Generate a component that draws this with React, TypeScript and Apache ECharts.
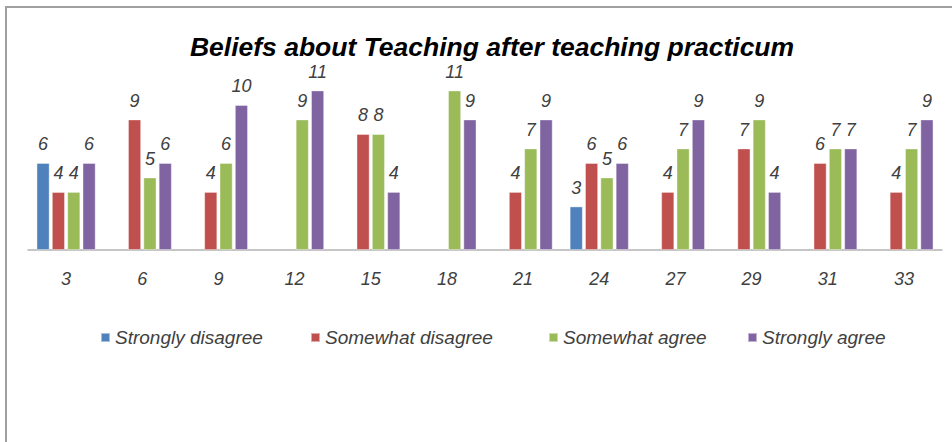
import React, { useEffect, useRef } from "react";
import * as echarts from "echarts";

const categories = ["3", "6", "9", "12", "15", "18", "21", "24", "27", "29", "31", "33"];
const seriesNames = ["Strongly disagree", "Somewhat disagree", "Somewhat agree", "Strongly agree"];
const stronglyDisagree = [6, null, null, null, null, null, null, 3, null, null, null, null];
const somewhatDisagree = [4, 9, 4, null, 8, null, 4, 6, 4, 7, 6, 4];
const somewhatAgree = [4, 5, 6, 9, 8, 11, 7, 5, 7, 9, 7, 7];
const stronglyAgree = [6, 6, 10, 11, 4, 9, 9, 6, 9, 4, 7, 9];
const colors = ["#4F81BD", "#C0504D", "#9BBB59", "#8064A2"];
const legendLeft = [95, 305, 543, 742];

export default function App() {
  const ref = useRef<HTMLDivElement>(null);
  useEffect(() => {
    if (!ref.current) return;
    const chart = echarts.init(ref.current, null, { renderer: "svg" });
    const values = [stronglyDisagree, somewhatDisagree, somewhatAgree, stronglyAgree];
    const font = "'Liberation Sans', Arial, sans-serif";
    chart.setOption({
      animation: false,
      backgroundColor: "#ffffff",
      title: {
        text: "Beliefs about Teaching after teaching practicum",
        left: 487,
        textAlign: "center",
        top: 28,
        textStyle: {
          fontFamily: font,
          fontStyle: "italic",
          fontWeight: "bold",
          fontSize: 26.5,
          color: "#000000",
        },
      },
      legend: seriesNames.map((n, i) => ({
        data: [n],
        left: legendLeft[i],
        top: 323,
        icon: "rect",
        itemWidth: 9,
        itemHeight: 9,
        itemGap: 6,
        textStyle: {
          fontFamily: font,
          fontStyle: "italic",
          fontSize: 19,
          color: "#404040",
        },
      })),
      grid: { left: 28, right: 10, top: 76, bottom: 192, containLabel: false },
      xAxis: {
        type: "category",
        data: categories,
        axisLine: { show: true, lineStyle: { color: "#b3b3b3", width: 1.5 } },
        axisTick: { show: false },
        axisLabel: {
          margin: 20,
          fontFamily: font,
          fontStyle: "italic",
          fontSize: 18,
          color: "#404040",
        },
      },
      yAxis: {
        type: "value",
        min: 0,
        max: 12,
        show: false,
        splitLine: { show: false },
      },
      graphic: [
        { type: "line", shape: { x1: 5, y1: 7, x2: 952, y2: 7 }, style: { stroke: "#a0a0a0", lineWidth: 2 } },
        { type: "line", shape: { x1: 6, y1: 6, x2: 6, y2: 442 }, style: { stroke: "#a0a0a0", lineWidth: 2 } },
      ],
      series: seriesNames.map((n, i) => ({
        name: n,
        type: "bar",
        data: values[i],
        barWidth: 13,
        barGap: "18%",
        itemStyle: { color: colors[i], borderColor: "rgba(255,255,255,0.5)", borderWidth: 0.8 },
        label: {
          show: true,
          position: "top",
          distance: 10,
          fontFamily: font,
          fontStyle: "italic",
          fontSize: 18,
          color: "#404040",
        },
      })),
    });
    return () => chart.dispose();
  }, []);
  return (
    <div
      ref={ref}
      style={{ position: "fixed", left: 0, top: 0, width: 952, height: 442, background: "#fff" }}
    />
  );
}
